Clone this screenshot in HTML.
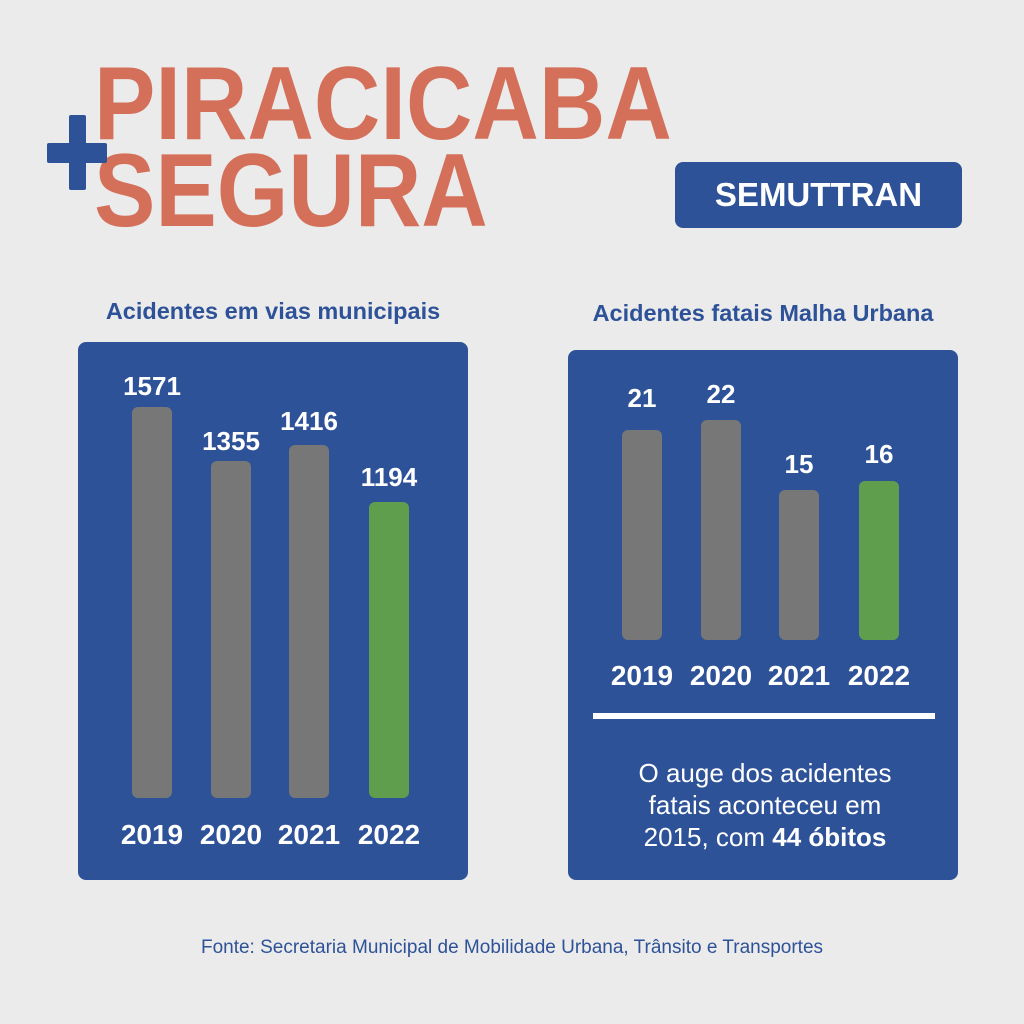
<!DOCTYPE html>
<html><head><meta charset="utf-8"><style>
body{margin:0;width:1024px;height:1024px;background:#ebebeb;position:relative;overflow:hidden;font-family:"Liberation Sans",sans-serif}
.a{position:absolute}
.t{position:absolute;color:#d4705a;font-weight:bold;font-size:104px;line-height:1;transform-origin:0 0;white-space:nowrap}
.panel{position:absolute;background:#2e5298;border-radius:8px}
.bar{position:absolute;width:40px;border-radius:6px;background:#777}
.v{position:absolute;color:#fff;font-weight:bold;font-size:26px;width:100px;text-align:center;line-height:1}
.y{position:absolute;color:#fff;font-weight:bold;font-size:28px;line-height:1;text-align:center;width:90px}
.h{position:absolute;color:#2e5298;font-weight:bold;font-size:23.5px;text-align:center;line-height:1}
</style></head><body>
<div class="t" style="left:94px;top:52px;transform:scaleX(0.885)">PIRACICABA</div>
<div class="t" style="left:94px;top:139px;transform:scaleX(0.885)">SEGURA</div>
<div class="a" style="left:69px;top:115px;width:17px;height:75px;background:#2e5298;border-radius:2px"></div>
<div class="a" style="left:47px;top:143px;width:60px;height:20px;background:#2e5298;border-radius:2px"></div>
<div class="panel" style="left:675px;top:162px;width:287px;height:66px;color:#fff;font-weight:bold;font-size:33px;text-align:center;line-height:66px">SEMUTTRAN</div>

<div class="h" style="left:78px;width:390px;top:300px">Acidentes em vias municipais</div>
<div class="h" style="left:568px;width:390px;top:302px">Acidentes fatais Malha Urbana</div>

<div class="panel" style="left:78px;top:342px;width:390px;height:538px"></div>
<div class="bar" style="left:132px;top:407px;height:391px"></div>
<div class="bar" style="left:211px;top:461px;height:337px"></div>
<div class="bar" style="left:289px;top:445px;height:353px"></div>
<div class="bar" style="left:369px;top:502px;height:296px;background:#5f9e4d"></div>
<div class="v" style="left:102px;top:373px">1571</div>
<div class="v" style="left:181px;top:428px">1355</div>
<div class="v" style="left:259px;top:408px">1416</div>
<div class="v" style="left:339px;top:464px">1194</div>
<div class="y" style="left:107px;top:821px">2019</div>
<div class="y" style="left:186px;top:821px">2020</div>
<div class="y" style="left:264px;top:821px">2021</div>
<div class="y" style="left:344px;top:821px">2022</div>

<div class="panel" style="left:568px;top:350px;width:390px;height:530px"></div>
<div class="bar" style="left:622px;top:430px;height:210px"></div>
<div class="bar" style="left:701px;top:420px;height:220px"></div>
<div class="bar" style="left:779px;top:490px;height:150px"></div>
<div class="bar" style="left:859px;top:481px;height:159px;background:#5f9e4d"></div>
<div class="v" style="left:592px;top:385px">21</div>
<div class="v" style="left:671px;top:381px">22</div>
<div class="v" style="left:749px;top:451px">15</div>
<div class="v" style="left:829px;top:441px">16</div>
<div class="y" style="left:597px;top:662px">2019</div>
<div class="y" style="left:676px;top:662px">2020</div>
<div class="y" style="left:754px;top:662px">2021</div>
<div class="y" style="left:834px;top:662px">2022</div>
<div class="a" style="left:593px;top:713px;width:342px;height:6px;background:#fff"></div>
<div class="a" style="left:568px;width:394px;top:757px;color:#fff;font-size:26px;line-height:32px;text-align:center">O auge dos acidentes<br>fatais aconteceu em<br>2015, com <b>44 óbitos</b></div>

<div class="a" style="left:0;width:1024px;top:937px;text-align:center;color:#2e5298;font-size:19px">Fonte: Secretaria Municipal de Mobilidade Urbana, Trânsito e Transportes</div>
</body></html>
